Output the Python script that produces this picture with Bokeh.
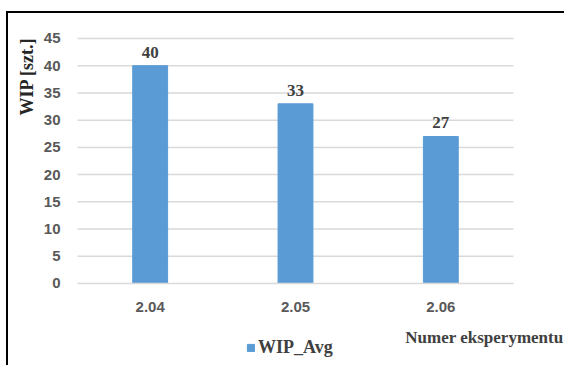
from bokeh.plotting import figure
from bokeh.models import ColumnDataSource, Legend, LegendItem, LabelSet, Label, Range1d
from bokeh.embed import file_html
from bokeh.resources import INLINE
from bokeh.core.properties import value
import math

categories = ["2.04", "2.05", "2.06"]
wip_avg = [40, 33, 27]
labels = ["40", "33", "27"]
y_ticks = list(range(0, 50, 5))

xpos = [i + 0.5 for i in range(len(categories))]
n = len(categories)
src = ColumnDataSource(dict(x=xpos, y=wip_avg, lab=labels))

p = figure(x_range=Range1d(-0.4748, 3.3647), y_range=Range1d(-15.43, 49.59),
           width=558, height=354, output_backend="svg", toolbar_location=None,
           min_border_left=0, min_border_right=0, min_border_top=0, min_border_bottom=0)
p.styles = {"margin-top": "11px", "margin-left": "6px",
            "border-top": "2px solid black", "border-left": "2px solid black"}
p.outline_line_color = None
p.background_fill_color = "white"
p.xgrid.visible = False
p.ygrid.visible = False

# horizontal gridlines over the category span
p.segment(x0=[0] * len(y_ticks[1:]), x1=[n] * len(y_ticks[1:]), y0=y_ticks[1:], y1=y_ticks[1:],
          line_color="#D9D9D9", line_width=1.5)

r = p.vbar(x="x", top="y", width=0.24, source=src, color="#5B9BD5")

p.xaxis.fixed_location = 0
p.yaxis.fixed_location = 0
p.xaxis.ticker = xpos
p.xaxis.major_label_overrides = {x: c for x, c in zip(xpos, categories)}
p.xaxis.bounds = (0, n)
p.yaxis.ticker = y_ticks
p.yaxis.bounds = (0, y_ticks[-1])
for ax in (p.xaxis, p.yaxis):
    ax.major_tick_line_color = None
    ax.minor_tick_line_color = None
    ax.major_label_text_font = "Liberation Sans"
    ax.major_label_text_font_style = "bold"
    ax.major_label_text_font_size = "15px"
    ax.major_label_text_color = "#595959"
p.yaxis.axis_line_color = None
p.xaxis.axis_line_color = "#D9D9D9"
p.xaxis.axis_line_width = 1.5
p.yaxis.major_label_standoff = 11
p.xaxis.major_label_standoff = 13

ls = LabelSet(x="x", y="y", text="lab", source=src, text_align="center", y_offset=8,
              text_font=value("Liberation Serif"), text_font_style="bold",
              text_font_size="17px", text_color="#404040")
p.add_layout(ls)

p.add_layout(Label(x=18, y=330, x_units="screen", y_units="screen", text="WIP [szt.]",
                   angle=math.pi / 2, text_align="right", text_baseline="middle",
                   text_font="Liberation Serif", text_font_style="bold",
                   text_font_size="18px", text_color="#262626"))
p.add_layout(Label(x=555, y=30, x_units="screen", y_units="screen", text="Numer eksperymentu",
                   text_align="right", text_baseline="middle", text_font="Liberation Serif",
                   text_font_style="bold", text_font_size="17px", text_color="#404040"))

leg = Legend(items=[LegendItem(label="WIP_Avg", renderers=[r])], location=(238, 9),
             orientation="horizontal", label_text_font="Liberation Serif", label_text_font_style="bold",
             label_text_font_size="18px", label_text_color="#404040", glyph_width=9, glyph_height=9,
             border_line_color=None, background_fill_alpha=0, padding=0, margin=0, label_standoff=3)
p.add_layout(leg)

open("out.html", "w").write(file_html(p, INLINE))
